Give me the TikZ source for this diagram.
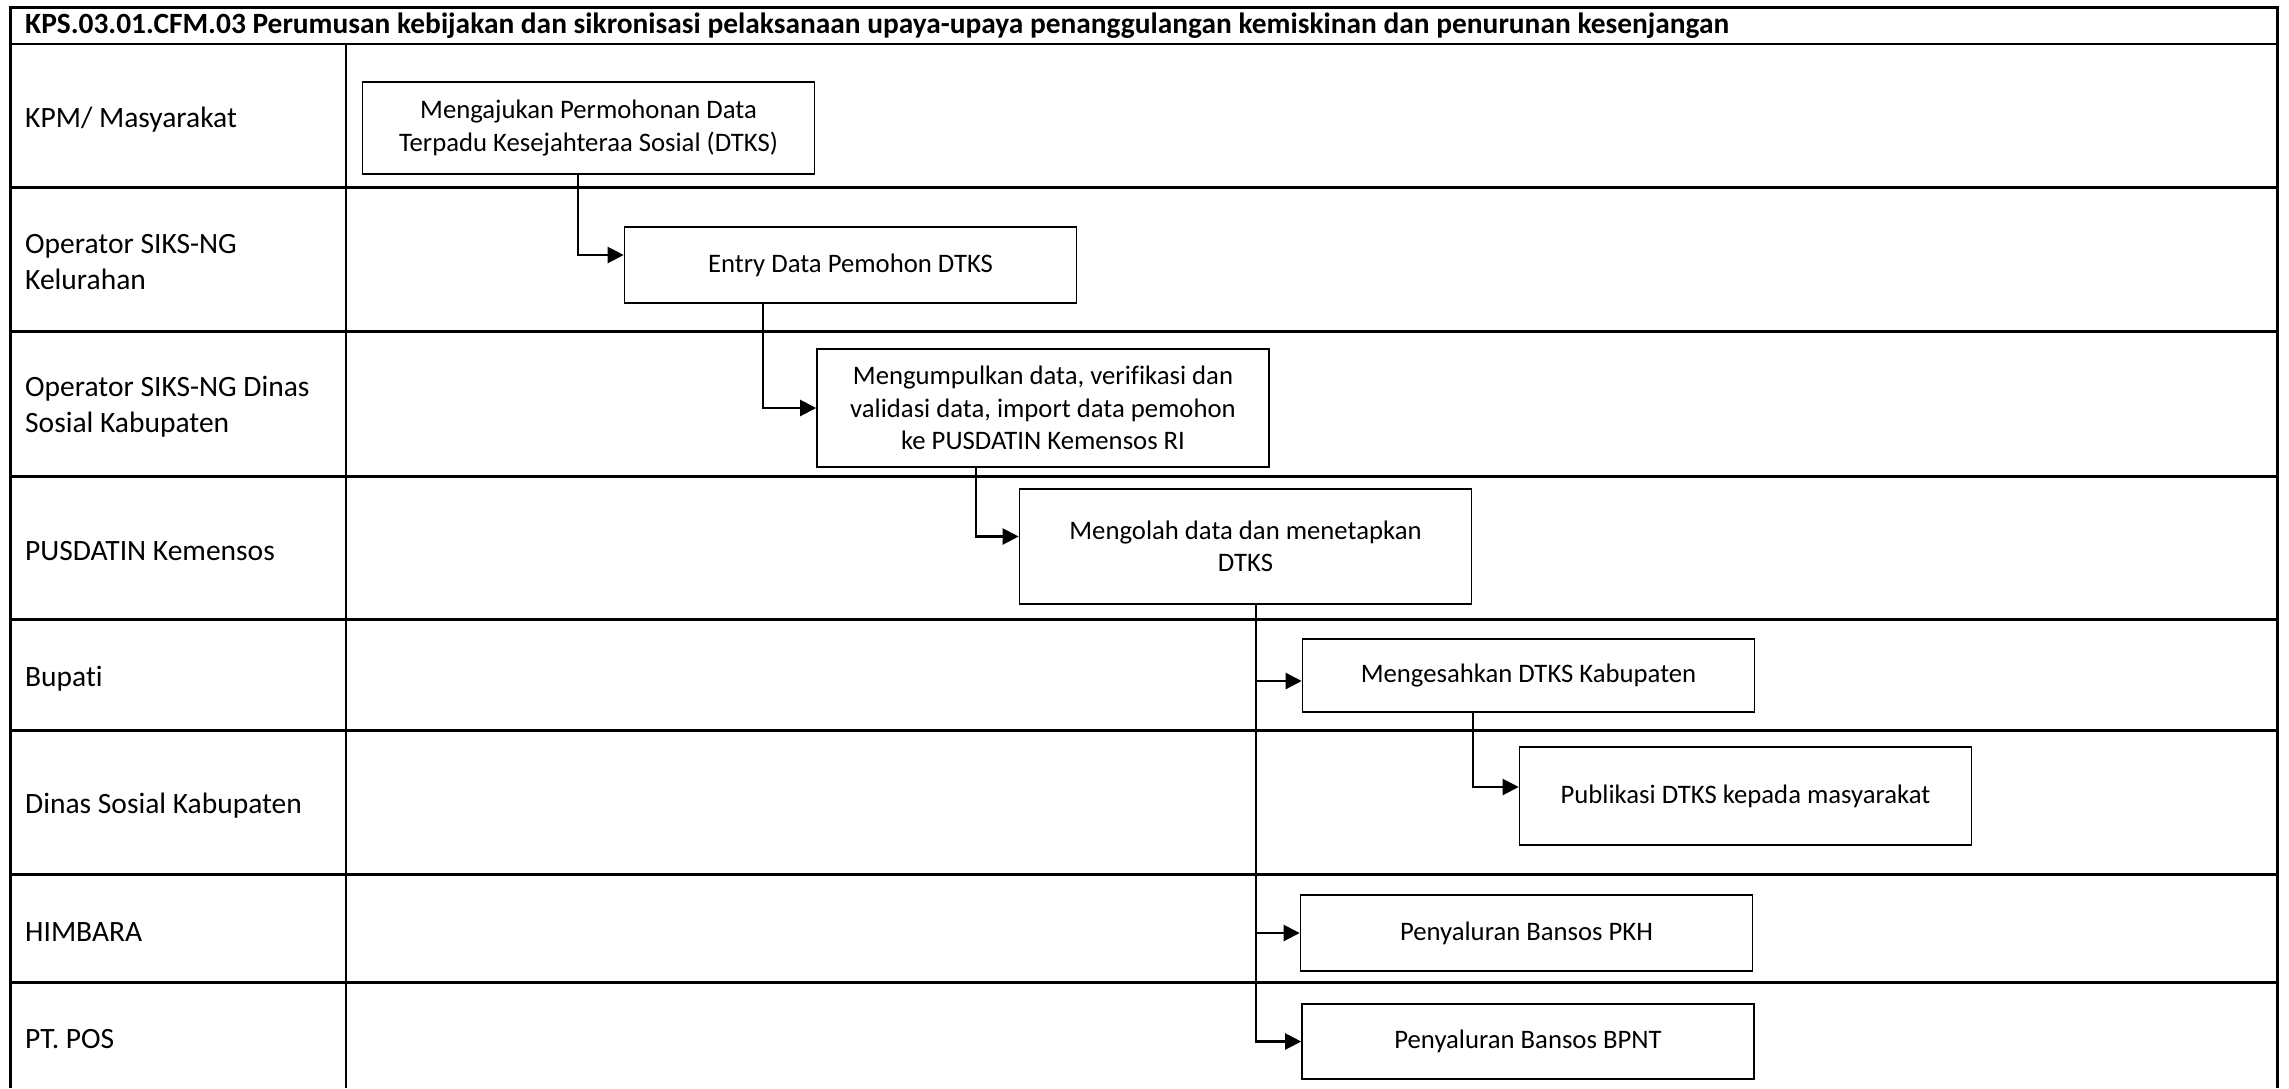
\documentclass[tikz,border=0pt]{standalone}
\usepackage{fontspec}
\setmainfont{Carlito}[Ligatures=NoCommon]
\usetikzlibrary{arrows.meta}
\newcommand\lanefont{\fontsize{29.5}{36}\selectfont}
\newcommand\boxfont{\fontsize{26.7}{32.5}\selectfont}
\newcommand\headfont{\fontsize{29.4}{33}\selectfont\bfseries}
\begin{document}
\begin{tikzpicture}[x=1pt, y=-1pt,
  grid/.style={line width=3pt},
  lane/.style={anchor=west, align=left, inner sep=0pt, font=\lanefont},
  box/.style={draw, line width=1.6pt, minimum width=452pt, inner sep=0pt, align=center, font=\boxfont},
  flow/.style={line width=2.2pt, -{Triangle[length=16pt, width=16pt]}}]
  \useasboundingbox (0,0) rectangle (2289,1088);
  \draw[grid] (10,1088) -- (10,7) -- (2277,7) -- (2277,1088);
  \draw[line width=2pt] (10,44) -- (2277,44);
  \draw[line width=2pt] (346,44) -- (346,1088);
  \foreach \y in {187,331,476,619,730,874,982} {
    \draw[grid] (10,\y) -- (2277,\y);
  }
  \node[anchor=west, inner sep=0pt, font=\headfont] (judul) at (25,25.5) {KPS.03.01.CFM.03 Perumusan kebijakan dan sikronisasi pelaksanaan upaya-upaya penanggulangan kemiskinan dan penurunan kesenjangan};
  \foreach \n/\y/\t in {kpm/119.5/{KPM/ Masyarakat}, kel/262/{Operator SIKS-NG\\Kelurahan}, dinsos/406.5/{Operator SIKS-NG Dinas\\Sosial Kabupaten}, pusdatin/551.5/{PUSDATIN Kemensos}, bupati/678.5/{Bupati}, dinas/806/{Dinas Sosial Kabupaten}, himbara/932/{HIMBARA}, pos/1039/{PT. POS}} {
    \node[lane] (\n) at (25,\y) {\t};
  }
  \node[box, minimum height=92pt] (mohon) at (588.5,128) {Mengajukan Permohonan Data\\Terpadu Kesejahteraa Sosial (DTKS)};
  \node[box, minimum height=76pt] (entry) at (850.5,265) {Entry Data Pemohon DTKS};
  \node[box, minimum height=118pt] (kumpul) at (1043,408) {Mengumpulkan data, verifikasi dan\\validasi data, import data pemohon\\ke PUSDATIN Kemensos RI};
  \node[box, minimum height=115pt] (olah) at (1245.5,546.5) {Mengolah data dan menetapkan\\DTKS};
  \node[box, minimum height=73pt] (sah) at (1528.5,675.5) {Mengesahkan DTKS Kabupaten};
  \node[box, minimum height=98pt] (publik) at (1745.5,796) {Publikasi DTKS kepada masyarakat};
  \node[box, minimum height=76pt] (pkh) at (1526.5,933) {Penyaluran Bansos PKH};
  \node[box, minimum height=75pt] (bpnt) at (1528,1041.5) {Penyaluran Bansos BPNT};
  \draw[flow] ([xshift=-10.5pt]mohon.south) |- ([yshift=10pt]entry.west);
  \draw[flow] ([xshift=-87.5pt]entry.south) |- (kumpul.west);
  \draw[flow] ([xshift=-67pt]kumpul.south) |- ([yshift=10pt]olah.west);
  \draw[flow] ([xshift=10.5pt]olah.south) |- ([yshift=-5.5pt]sah.west);
  \draw[flow] ([xshift=10.5pt]olah.south) |- (pkh.west);
  \draw[flow] ([xshift=10.5pt]olah.south) |- (bpnt.west);
  \draw[flow] ([xshift=-55.5pt]sah.south) |- ([yshift=9pt]publik.west);
\end{tikzpicture}
\end{document}
